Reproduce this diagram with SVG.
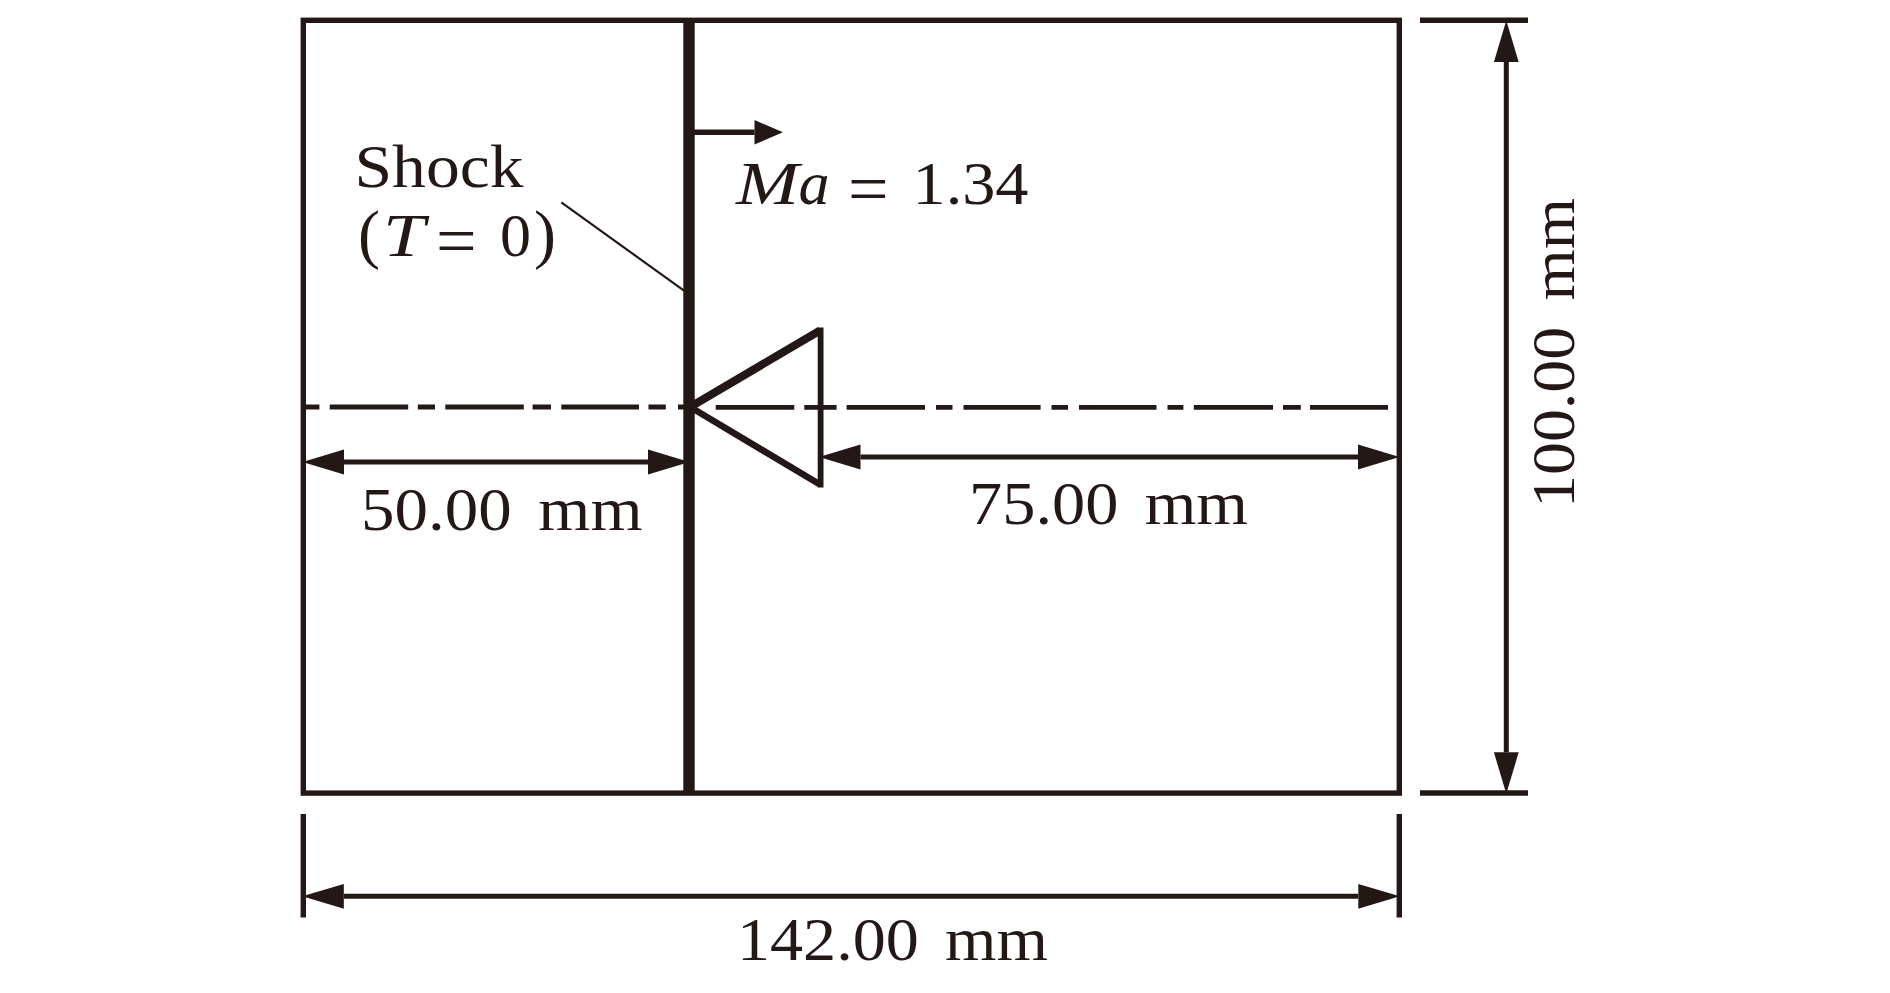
<svg xmlns="http://www.w3.org/2000/svg" width="1890" height="993" viewBox="0 0 1890 993">
<style>
.l{fill:none;stroke:#231815;stroke-width:5.4}
.d{fill:none;stroke:#231815;stroke-width:5;marker-start:url(#ah);marker-end:url(#ah)}
text{font-family:"Liberation Serif","Times New Roman",serif;font-size:61px;fill:#231815}
.i{font-style:italic}
.w{word-spacing:9px}
</style>
<defs>
<marker id="ah" markerUnits="userSpaceOnUse" markerWidth="44" markerHeight="28" viewBox="0 -14 44 28" refX="0" refY="0" orient="auto-start-reverse" overflow="visible"><path d="M0-12.4L41.5 0L0 12.4Z" fill="#231815"/></marker>
<marker id="as" markerUnits="userSpaceOnUse" markerWidth="30" markerHeight="28" viewBox="0 -14 30 28" refX="0" refY="0" orient="auto" overflow="visible"><path d="M0-12.2L28.5 0L0 12.2Z" fill="#231815"/></marker>
</defs>
<rect width="1890" height="993" fill="#fff"/>
<g id="domain"><rect class="l" x="303.3" y="20.3" width="1096" height="772.8"/></g>
<g id="axis"><path d="M305.6 407H319.4M329.7 407H408.2M417.8 407H435M445.3 407H523.8M532.6 407H551M561.3 407H639M648.5 407H665.8M678 407H690M715.7 407.3H794.3M804.3 407.3H836.6M846.6 407.3H925M936 407.3H952.5M963.5 407.3H1040.6M1051.5 407.3H1068M1079 407.3H1156.5M1167.5 407.3H1183.4M1193.8 407.3H1273M1283 407.3H1300.8M1310 407.3H1388" fill="none" stroke="#231815" stroke-width="4.8"/></g>
<g id="shock"><path d="M689 20V793" fill="none" stroke="#231815" stroke-width="11.4"/></g>
<g id="cone"><path d="M691 406.5L820 330.5" fill="none" stroke="#231815" stroke-width="8"/><path d="M691 407.5L820 484.5" fill="none" stroke="#231815" stroke-width="6.6"/><path d="M820.6 327.5V487.5" fill="none" stroke="#231815" stroke-width="5.8"/></g>
<g id="connectors">
<path d="M561.3 202.3L684 290.7" fill="none" stroke="#231815" stroke-width="2.2"/>
<path d="M694 132.3H754.5" class="l" marker-end="url(#as)"/>
<path class="d" d="M344 462H648"/>
<path class="d" d="M860.5 457H1358"/>
<path class="d" d="M1506.3 62V752.3"/>
<path class="d" d="M343.8 896.3H1358.3"/>
<path class="l" d="M1420 20.3H1528M1420 793H1528M303.3 814V917.5M1399.3 814V917.5"/>
</g>
<g id="labels">
<text x="354.5" y="186.7" textLength="169" lengthAdjust="spacingAndGlyphs">Shock</text>
<text y="256"><tspan x="358" font-size="66">(</tspan><tspan x="383" class="i" textLength="42" lengthAdjust="spacingAndGlyphs">T</tspan><tspan x="436" font-size="72" dy="9">=</tspan><tspan x="500" dy="-9" font-size="62">0</tspan><tspan x="534" font-size="66">)</tspan></text>
<text y="204"><tspan x="736" class="i" textLength="63" lengthAdjust="spacingAndGlyphs">M</tspan><tspan x="798.6" class="i" textLength="31" lengthAdjust="spacingAndGlyphs">a</tspan><tspan x="848" font-size="72" dy="9">=</tspan><tspan x="912.5" dy="-9" textLength="116" lengthAdjust="spacingAndGlyphs">1.34</tspan></text>
<text class="w" x="361" y="530" textLength="281.5" lengthAdjust="spacingAndGlyphs">50.00 mm</text>
<text class="w" x="969" y="524" textLength="279" lengthAdjust="spacingAndGlyphs">75.00 mm</text>
<text class="w" x="737" y="960" textLength="311" lengthAdjust="spacingAndGlyphs">142.00 mm</text>
<text class="w" transform="translate(1574 508) rotate(-90)" textLength="310" lengthAdjust="spacingAndGlyphs">100.00 mm</text>
</g>
</svg>
